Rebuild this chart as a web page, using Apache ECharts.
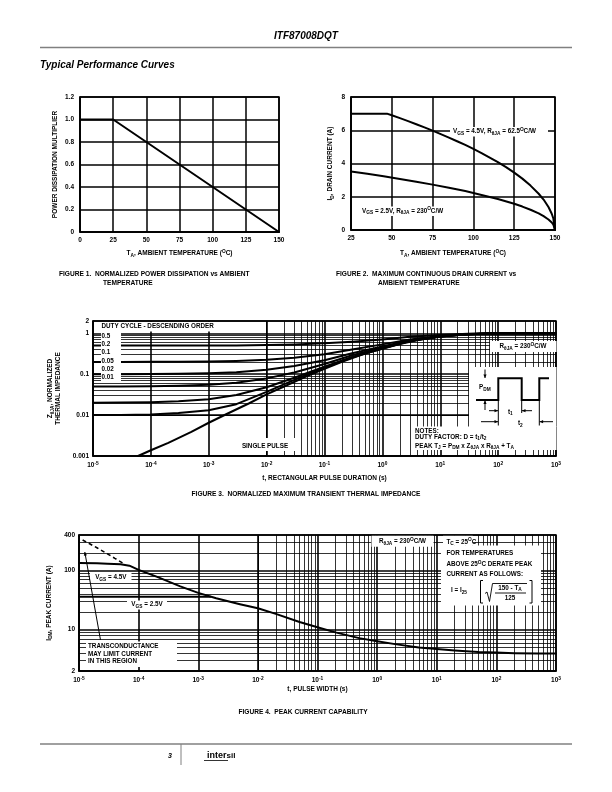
<!DOCTYPE html>
<html><head><meta charset="utf-8">
<script src="https://cdn.jsdelivr.net/npm/echarts@6.0.0/dist/echarts.min.js"></script>
<style>html,body{margin:0;padding:0;background:#fff;}#chart{width:612px;height:792px;}</style>
</head><body><div id="chart"></div>
<script>
// ================= DATA =================
// Figure 1: normalized power dissipation vs ambient temperature
const fig1Temp = [0, 25, 150];
const fig1Mult = [1.0, 1.0, 0];

// Figure 2: max continuous drain current vs ambient temperature
const fig2Temp45 = [25, 47, 50, 55, 60, 65, 70, 75, 80, 85, 90, 95, 100, 105, 110, 115, 120, 125, 130, 135, 140, 143, 146, 148, 149, 150];
const fig2Id45   = [7.0, 7.0, 6.90, 6.73, 6.55, 6.36, 6.17, 5.98, 5.77, 5.56, 5.34, 5.12, 4.88, 4.63, 4.36, 4.08, 3.78, 3.45, 3.09, 2.67, 2.18, 1.83, 1.38, 0.98, 0.69, 0];
const fig2Temp25 = [25, 35, 45, 55, 65, 75, 85, 95, 105, 115, 125, 130, 135, 140, 143, 146, 148, 149, 150];
const fig2Id25   = [3.52, 3.38, 3.23, 3.07, 2.90, 2.73, 2.54, 2.34, 2.11, 1.86, 1.58, 1.41, 1.22, 1.0, 0.83, 0.63, 0.45, 0.32, 0];

// Figure 3: normalized transient thermal impedance
const fig3Time = [1e-5, 3e-5, 1e-4, 3e-4, 1e-3, 3e-3, 1e-2, 3e-2, 1e-1, 3e-1, 1, 3, 10, 30, 100, 300, 1000];
const fig3D050 = [0.5, 0.5, 0.501, 0.502, 0.504, 0.507, 0.516, 0.533, 0.568, 0.625, 0.71, 0.82, 0.915, 0.975, 1.0, 1.0, 1.0];
const fig3D020 = [0.2, 0.2, 0.201, 0.202, 0.205, 0.211, 0.226, 0.252, 0.308, 0.4, 0.536, 0.71, 0.865, 0.96, 1.0, 1.0, 1.0];
const fig3D010 = [0.1, 0.1, 0.101, 0.1025, 0.106, 0.112, 0.129, 0.158, 0.22, 0.325, 0.478, 0.68, 0.85, 0.955, 1.0, 1.0, 1.0];
const fig3D005 = [0.05, 0.0502, 0.0508, 0.052, 0.055, 0.062, 0.079, 0.11, 0.178, 0.29, 0.45, 0.66, 0.84, 0.953, 1.0, 1.0, 1.0];
const fig3D002 = [0.02, 0.0202, 0.0207, 0.0218, 0.0245, 0.031, 0.048, 0.082, 0.152, 0.265, 0.43, 0.65, 0.835, 0.95, 1.0, 1.0, 1.0];
const fig3D001 = [0.01, 0.0101, 0.0104, 0.0112, 0.0132, 0.0185, 0.037, 0.073, 0.144, 0.257, 0.425, 0.645, 0.832, 0.95, 1.0, 1.0, 1.0];
const fig3SingleTime = [6e-5, 1e-4, 2e-4, 5e-4, 1e-3, 2e-3, 5e-3, 1e-2, 2e-2, 5e-2, 1e-1, 2e-1, 5e-1, 1, 2, 5, 10, 20, 50, 100, 1000];
const fig3Single     = [0.001, 0.00138, 0.0021, 0.0039, 0.0065, 0.0105, 0.0195, 0.032, 0.05, 0.09, 0.135, 0.2, 0.32, 0.42, 0.55, 0.72, 0.83, 0.92, 0.98, 1.0, 1.0];
const fig3DutyLabels = ['0.5', '0.2', '0.1', '0.05', '0.02', '0.01'];

// Figure 4: peak current capability
const fig4Time45 = [1e-5, 2e-5, 3e-5, 5e-5, 7e-5, 1e-4, 2e-4, 5e-4, 1e-3, 2e-3, 5e-3, 1e-2, 2e-2, 5e-2, 1e-1, 2e-1, 5e-1, 1, 2, 5, 10, 20, 50, 100, 200, 500, 1000];
const fig4Idm45  = [135, 133, 131, 128, 121, 103, 79, 54, 42, 34, 27, 23, 18.5, 13.5, 11, 9, 7.2, 6.4, 5.7, 5.0, 4.7, 4.45, 4.2, 4.1, 4.0, 3.95, 3.95];
const fig4Time25 = [1e-5, 1.6e-3];
const fig4Idm25  = [36, 36];
const fig4TimeDash = [1.15e-5, 2e-5, 3e-5, 4e-5, 5.5e-5];
const fig4IdmDash  = [330, 243, 192, 161, 133];

// grid multipliers inside a decade (graph paper lines)
const decadeMults = [2, 3, 4, 5, 6, 7, 8, 9];

// ================= HELPERS =================
const FF = 'Liberation Sans';
const FFC = '"Liberation Sans", Arial, sans-serif';
const zip = (a, b) => a.map((v, i) => [v, b[i]]);
function minor(e0, e1, lo, hi) {
  const out = [];
  for (let e = e0; e <= e1; e++) for (const m of decadeMults) {
    const v = m * Math.pow(10, e);
    if (v > lo * 1.0001 && v < hi * 0.9999) out.push(v);
  }
  return out;
}

const RN = {
  n:   { fontFamily: FF, fontWeight: 'bold', fontSize: 6.5, color: '#000' },
  sub: { fontFamily: FF, fontWeight: 'bold', fontSize: 4.8, color: '#000', padding: [4, 0, 0, 0] },
  sup: { fontFamily: FF, fontWeight: 'bold', fontSize: 4.8, color: '#000', padding: [0, 0, 4, 0] }
};
const RG = {
  sub: { font: 'bold 4.8px ' + FFC, fill: '#000', padding: [4, 0, 0, 0] },
  sup: { font: 'bold 4.8px ' + FFC, fill: '#000', padding: [0, 0, 4, 0] },
  big: { font: 'bold 9px ' + FFC, fill: '#000' },
  sm:  { font: 'bold 8px ' + FFC, fill: '#000' }
};
const LBL = { fontFamily: FF, fontWeight: 'bold', fontSize: 6.5, color: '#000' };
const numFmt = v => String(Number(v.toPrecision(3)));
const expFmt = v => '{b|10}{s|' + Math.round(Math.log10(v)) + '}';
const EXPRICH = {
  b: { fontFamily: FF, fontWeight: 'bold', fontSize: 6.5, color: '#000' },
  s: { fontFamily: FF, fontWeight: 'bold', fontSize: 4.8, color: '#000', padding: [0, 0, 4, 0] }
};
const BLACK = { color: '#000', width: 1.5 };

function linAxis(gi, min, max, interval, fmt, name, gap, margin) {
  return {
    gridIndex: gi, type: 'value', min, max, interval,
    axisLine: { show: true, lineStyle: BLACK }, axisTick: { show: false },
    splitLine: { show: true, lineStyle: BLACK },
    axisLabel: Object.assign({ margin, formatter: fmt }, LBL),
    name, nameLocation: 'middle', nameGap: gap, nameTextStyle: { rich: RN }
  };
}
function logAxis(gi, min, max, fmt, rich, name, gap, margin) {
  return {
    gridIndex: gi, type: 'log', logBase: 10, min, max,
    axisLine: { show: true, lineStyle: BLACK }, axisTick: { show: false },
    splitLine: { show: true, lineStyle: { color: '#000', width: 1.6 } },
    axisLabel: Object.assign({ margin, formatter: fmt, rich }, LBL),
    name, nameLocation: 'middle', nameGap: gap, nameTextStyle: { rich: RN }
  };
}
function curve(xi, data, extra) {
  return Object.assign({
    type: 'line', xAxisIndex: xi, yAxisIndex: xi, data, symbol: 'none', showSymbol: false,
    lineStyle: { color: '#000', width: 2, join: 'round', cap: 'round' }, z: 6, silent: true,
    smooth: false
  }, extra || {});
}
function gridMark(xs, ys) {
  return {
    silent: true, symbol: ['none', 'none'], z: 1, animation: false,
    label: { show: false }, emphasis: { disabled: true },
    lineStyle: { color: '#000', width: 0.8, type: 'solid' },
    data: xs.map(v => ({ xAxis: v })).concat(ys.map(v => ({ yAxis: v })))
  };
}

// ================= GRAPHICS (annotations) =================
const G = [];
function txt(x, y, s, o) {
  o = o || {};
  G.push({ type: 'text', z: 100, silent: true, style: {
    x, y, text: s, fill: '#000',
    font: (o.it ? 'italic ' : '') + 'bold ' + (o.size || 6.5) + 'px ' + FFC,
    align: o.align || 'left', verticalAlign: 'middle', rich: RG } });
}
function box(x, y, w, h) { G.push({ type: 'rect', z: 90, silent: true, shape: { x, y, width: w, height: h }, style: { fill: '#fff' } }); }
function ln(x1, y1, x2, y2, w, c) { G.push({ type: 'line', z: 95, silent: true, shape: { x1, y1, x2, y2 }, style: { stroke: c || '#000', lineWidth: w || 1 } }); }
function pl(points, w) { G.push({ type: 'polyline', z: 95, silent: true, shape: { points }, style: { stroke: '#000', lineWidth: w || 1, fill: null } }); }
function arrow(x1, y1, x2, y2, w) {
  ln(x1, y1, x2, y2, w || 1);
  const a = Math.atan2(y2 - y1, x2 - x1), L = 3.5, W = 1.6;
  const bx = x2 - L * Math.cos(a), by = y2 - L * Math.sin(a);
  G.push({ type: 'polygon', z: 96, silent: true, shape: { points: [[x2, y2], [bx + W * Math.sin(a), by - W * Math.cos(a)], [bx - W * Math.sin(a), by + W * Math.cos(a)]] }, style: { fill: '#000' } });
}

// header / footer
txt(306, 36, 'ITF87008DQT', { size: 10, it: true, align: 'center' });
ln(40, 47.5, 572, 47.5, 1.6, '#808080');
txt(40, 65, 'Typical Performance Curves', { size: 10, it: true });
ln(40, 744, 572, 744, 1.6, '#808080');
ln(181, 744, 181, 765, 1, '#808080');
txt(170, 756.5, '3', { size: 7, it: true, align: 'center' });
txt(207, 756, '{big|inter}{sm|sil}', { size: 9 });
ln(204, 760.5, 228, 760.5, 0.8);

// Figure 1 captions
txt(59, 274, 'FIGURE 1.  NORMALIZED POWER DISSIPATION vs AMBIENT', { size: 6.6 });
txt(103, 283.5, 'TEMPERATURE', { size: 6.6 });
// Figure 2 labels & captions
box(450, 127, 98, 9.5);
txt(453, 131.7, 'V{sub|GS} = 4.5V, R{sub|θJA} = 62.5{sup|O}C/W', { size: 6.3 });
box(360, 206.5, 95, 9.5);
txt(362, 211, 'V{sub|GS} = 2.5V, R{sub|θJA} = 230{sup|O}C/W', { size: 6.3 });
txt(336, 274, 'FIGURE 2.  MAXIMUM CONTINUOUS DRAIN CURRENT vs', { size: 6.6 });
txt(378, 283.5, 'AMBIENT TEMPERATURE', { size: 6.6 });

// Figure 3 annotations
box(101, 322, 135, 9.5);
txt(101.5, 326.5, 'DUTY CYCLE - DESCENDING ORDER', { size: 6.3 });
box(101, 331, 20, 51);
fig3DutyLabels.forEach((s, i) => txt(101.5, 336 + i * 8.3, s, { size: 6.3 }));
box(232, 438, 67, 13);
txt(265, 446.5, 'SINGLE PULSE', { size: 6.3, align: 'center' });
box(490, 341, 66.5, 11);
txt(523, 346.5, 'R{sub|θJA} = 230{sup|O}C/W', { size: 6.3, align: 'center' });
box(469, 367, 87.5, 60);
box(411, 426.5, 145.5, 23.5);
pl([[476, 400], [498.3, 400], [498.3, 378.3], [521.7, 378.3], [521.7, 400], [539.3, 400], [539.3, 378.3], [549, 378.3]], 2);
txt(479, 387.5, 'P{sub|DM}', { size: 6.3 });
arrow(485, 369.5, 485, 378, 1);
arrow(485, 410, 485, 400.5, 1);
ln(498.3, 400, 498.3, 425.5, 1);
ln(521.7, 400, 521.7, 413, 1);
ln(539.3, 400, 539.3, 425.5, 1);
arrow(489, 410.7, 498, 410.7, 1);
arrow(532, 410.7, 522, 410.7, 1);
txt(508, 412, 't{sub|1}', { size: 6.3 });
arrow(481, 421.7, 498, 421.7, 1);
arrow(553, 421.7, 539.6, 421.7, 1);
txt(518, 423.5, 't{sub|2}', { size: 6.3 });
txt(415, 431, 'NOTES:', { size: 6.3 });
txt(415, 437, 'DUTY FACTOR: D = t{sub|1}/t{sub|2}', { size: 6.3 });
txt(415, 446, 'PEAK T{sub|J} = P{sub|DM} x Z{sub|θJA} x R{sub|θJA} + T{sub|A}', { size: 6.3 });
txt(306, 494, 'FIGURE 3.  NORMALIZED MAXIMUM TRANSIENT THERMAL IMPEDANCE', { size: 6.6, align: 'center' });

// Figure 4 annotations
box(86, 641.5, 91, 25.5);
txt(88, 646.7, 'TRANSCONDUCTANCE', { size: 6.3 });
txt(88, 654.3, 'MAY LIMIT CURRENT', { size: 6.3 });
txt(88, 661.7, 'IN THIS REGION', { size: 6.3 });
arrow(100.5, 640, 84.8, 552, 1);
box(90, 573, 41.5, 9);
txt(110.8, 577.5, 'V{sub|GS} = 4.5V', { size: 6.3, align: 'center' });
box(127, 600.5, 40, 9);
txt(147, 604.7, 'V{sub|GS} = 2.5V', { size: 6.3, align: 'center' });
box(371.5, 535.8, 62, 11);
txt(402.5, 541.3, 'R{sub|θJA} = 230{sup|O}C/W', { size: 6.3, align: 'center' });
box(443, 535.8, 30, 10);
box(441, 545.5, 100, 60);
txt(446.5, 541.8, 'T{sub|C} = 25{sup|O}C', { size: 6.3 });
txt(446.5, 553.3, 'FOR TEMPERATURES', { size: 6.3 });
txt(446.5, 564.3, 'ABOVE 25{sup|O}C DERATE PEAK', { size: 6.3 });
txt(446.5, 574.5, 'CURRENT AS FOLLOWS:', { size: 6.3 });
txt(451, 590.5, 'I = I{sub|25}', { size: 6.3 });
pl([[483, 580.5], [480.5, 580.5], [480.5, 603], [483, 603]], 1);
pl([[529.5, 580.5], [532, 580.5], [532, 603], [529.5, 603]], 1);
pl([[485, 593.5], [487, 592], [489.5, 601.5], [492.5, 583.5], [527, 583.5]], 0.9);
txt(510, 588, '150 - T{sub|A}', { size: 6.3, align: 'center' });
ln(495, 593, 526, 593, 0.9);
txt(510, 598.5, '125', { size: 6.3, align: 'center' });
txt(303, 712, 'FIGURE 4.  PEAK CURRENT CAPABILITY', { size: 6.6, align: 'center' });

// ================= OPTION =================
const option = {
  animation: false,
  backgroundColor: '#fff',
  textStyle: { fontFamily: FF },
  grid: [
    { left: 80, top: 97, width: 199, height: 135, show: true, borderColor: '#000', borderWidth: 1.5 },
    { left: 351, top: 97, width: 204, height: 133, show: true, borderColor: '#000', borderWidth: 1.5 },
    { left: 93, top: 321, width: 463, height: 135, show: true, borderColor: '#000', borderWidth: 1.5 },
    { left: 79, top: 535, width: 477, height: 136, show: true, borderColor: '#000', borderWidth: 1.5 }
  ],
  xAxis: [
    linAxis(0, 0, 150, 25, null, '{n|T}{sub|A}{n|, AMBIENT TEMPERATURE (}{sup|O}{n|C)}', 17, 5),
    linAxis(1, 25, 150, 25, null, '{n|T}{sub|A}{n|, AMBIENT TEMPERATURE (}{sup|O}{n|C)}', 19, 5),
    logAxis(2, 1e-5, 1e3, expFmt, EXPRICH, '{n|t, RECTANGULAR PULSE DURATION (s)}', 18.5, 5),
    logAxis(3, 1e-5, 1e3, expFmt, EXPRICH, '{n|t, PULSE WIDTH (s)}', 15, 5)
  ],
  yAxis: [
    linAxis(0, 0, 1.2, 0.2, v => v === 0 ? '0' : v.toFixed(1), '{n|POWER DISSIPATION MULTIPLIER}', 21, 6),
    linAxis(1, 0, 8, 2, null, '{n|I}{sub|D}{n|, DRAIN CURRENT (A)}', 16, 6),
    logAxis(2, 0.001, 2, numFmt, null, '{n|Z}{sub|θJA}{n|, NORMALIZED}\n{n|THERMAL IMPEDANCE}', 21, 4),
    logAxis(3, 2, 400, numFmt, null, '{n|I}{sub|DM}{n|, PEAK CURRENT (A)}', 16, 4)
  ],
  series: [
    curve(0, zip(fig1Temp, fig1Mult)),
    curve(1, zip(fig2Temp45, fig2Id45)),
    curve(1, zip(fig2Temp25, fig2Id25)),
    curve(2, zip(fig3Time, fig3D050), { markLine: gridMark(minor(-5, 2, 1e-5, 1e3), minor(-3, 0, 0.001, 2)) }),
    curve(2, zip(fig3Time, fig3D020)),
    curve(2, zip(fig3Time, fig3D010)),
    curve(2, zip(fig3Time, fig3D005)),
    curve(2, zip(fig3Time, fig3D002)),
    curve(2, zip(fig3Time, fig3D001)),
    curve(2, zip(fig3SingleTime, fig3Single)),
    curve(3, zip(fig4Time45, fig4Idm45), { markLine: gridMark(minor(-5, 2, 1e-5, 1e3), minor(0, 2, 2, 400)) }),
    curve(3, zip(fig4Time25, fig4Idm25)),
    curve(3, zip(fig4TimeDash, fig4IdmDash), { lineStyle: { color: '#000', width: 1.6, type: [4, 3] } })
  ],
  graphic: { elements: G }
};

const chart = echarts.init(document.getElementById('chart'), null, { renderer: 'canvas', width: 612, height: 792 });
chart.setOption(option);
</script>
</body></html>
